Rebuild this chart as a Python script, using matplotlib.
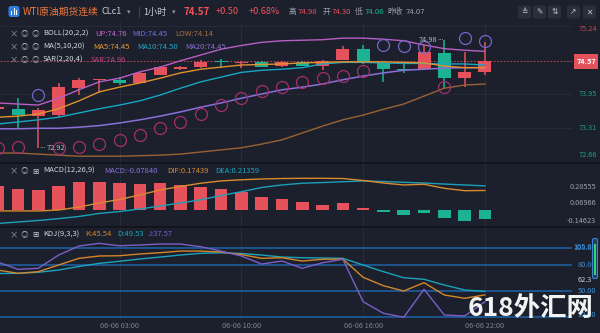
"""
WTI 1h chart: BOLL / MA / SAR + MACD + KDJ panels
"""
import numpy as np
import matplotlib.pyplot as plt
from matplotlib.patches import Rectangle, FancyBboxPatch
from matplotlib.transforms import blended_transform_factory as blend

plt.rcParams['font.family'] = ['Noto Sans CJK SC', 'DejaVu Sans']

# candle index, -1 is the one cut by the left edge
idx = list(range(-1, 24))
opens  = [73.67, 73.66, 73.54, 73.55, 74.06, 74.21, 74.22, 74.16, 74.32, 74.42, 74.46, 74.56, 74.54,
          74.56, 74.48, 74.56, 74.49, 74.60, 74.80, 74.54, 74.42, 74.42, 74.73, 74.25, 74.37]
closes = [73.70, 73.55, 73.65, 74.08, 74.22, 74.22, 74.16, 74.34, 74.46, 74.47, 74.56, 74.55, 74.56,
          74.47, 74.56, 74.49, 74.58, 74.80, 74.53, 74.42, 74.41, 74.74, 74.25, 74.37, 74.57]
highs  = [73.75, 73.87, 73.68, 74.15, 74.26, 74.22, 74.27, 74.37, 74.48, 74.48, 74.60, 74.61, 74.57,
          74.58, 74.57, 74.57, 74.59, 74.87, 74.88, 74.55, 74.53, 74.88, 74.98, 74.75, 74.94]
lows   = [73.60, 73.30, 72.92, 73.51, 73.93, 73.97, 74.12, 74.16, 74.31, 74.41, 74.45, 74.44, 74.44,
          74.46, 74.47, 74.48, 74.41, 74.59, 74.52, 74.18, 74.34, 74.41, 74.06, 74.09, 74.32]

boll_up  = [73.78, 73.76, 73.74, 73.87, 74.03, 74.18, 74.25, 74.37, 74.46, 74.58, 74.69, 74.80, 74.87,
            74.93, 74.96, 74.97, 74.98, 75.01, 75.01, 74.99, 74.96, 74.88, 74.81, 74.78, 74.76]
boll_mid = [73.29, 73.29, 73.30, 73.30, 73.32, 73.35, 73.40, 73.46, 73.53, 73.61, 73.70, 73.78, 73.87,
            73.95, 74.03, 74.08, 74.14, 74.22, 74.29, 74.35, 74.40, 74.42, 74.44, 74.45, 74.45]
boll_low = [72.83, 72.83, 72.81, 72.79, 72.77, 72.77, 72.77, 72.78, 72.79, 72.81, 72.85, 72.89, 72.93,
            73.00, 73.08, 73.21, 73.34, 73.46, 73.55, 73.66, 73.76, 73.91, 74.06, 74.12, 74.14]
ma5  = [73.51, 73.53, 73.57, 73.67, 73.82, 73.99, 74.08, 74.16, 74.25, 74.35, 74.42, 74.46, 74.50,
        74.51, 74.52, 74.54, 74.55, 74.56, 74.56, 74.56, 74.55, 74.54, 74.48, 74.45, 74.45]
ma10 = [73.38, 73.42, 73.46, 73.51, 73.59, 73.67, 73.74, 73.82, 73.93, 74.06, 74.18, 74.27, 74.36,
        74.40, 74.42, 74.45, 74.52, 74.55, 74.55, 74.54, 74.53, 74.53, 74.52, 74.52, 74.50]
ma20 = boll_mid
sar  = [72.93, 72.94, 73.93, 72.92, 72.95, 73.00, 73.08, 73.17, 73.30, 73.42, 73.57, 73.74, 73.87,
        74.01, 74.09, 74.18, 74.25, 74.30, 74.39, 74.88, 74.87, 74.84, 74.08, 75.01, 74.96]

macd_hist = [0.213, 0.184, 0.178, 0.213, 0.245, 0.250, 0.237, 0.230, 0.237, 0.222, 0.207, 0.184, 0.158,
             0.120, 0.100, 0.073, 0.048, 0.063, 0.024, -0.016, -0.039, -0.024, -0.068, -0.089, -0.078]
dif = [-0.004, -0.004, -0.004, 0.004, 0.030, 0.065, 0.096, 0.135, 0.178, 0.209, 0.237, 0.257, 0.267,
       0.274, 0.278, 0.280, 0.280, 0.278, 0.261, 0.239, 0.222, 0.228, 0.193, 0.172, 0.174]
dea = [-0.113, -0.100, -0.087, -0.071, -0.052, -0.026, -0.009, 0.013, 0.039, 0.065, 0.093, 0.130, 0.163,
       0.200, 0.222, 0.237, 0.243, 0.250, 0.257, 0.252, 0.245, 0.239, 0.230, 0.222, 0.214]

kdj_k = [74.2, 70.4, 72.3, 80.0, 87.7, 90.4, 90.7, 92.7, 94.2, 96.1, 96.1, 95.0, 92.1,
         87.7, 88.4, 84.6, 86.6, 86.9, 65.8, 56.1, 50.0, 59.6, 45.4, 41.6, 45.54]
kdj_d = [70.2, 70.4, 71.6, 74.2, 78.3, 81.9, 84.3, 86.9, 89.2, 91.5, 93.5, 94.1, 93.3,
         91.5, 89.2, 88.4, 88.1, 87.7, 80.0, 72.3, 65.3, 63.5, 56.9, 51.2, 49.53]
kdj_j = [83.4, 75.0, 76.2, 91.5, 101.9, 105.0, 102.2, 103.1, 104.2, 104.2, 101.1, 96.1, 90.4,
         81.1, 84.6, 76.2, 82.6, 86.6, 37.7, 24.3, 19.7, 52.0, 22.3, 21.2, 37.57]

time_idx = [5, 11, 17, 23]
time_labels = ['06-06 03:00', '06-06 10:00', '06-06 16:00', '06-06 22:00']
price_ticks = [75.24, 73.95, 73.31, 72.66]
macd_ticks = ['0.28555', '0.06966', '-0.14623']
kdj_levels = [100, 80, 50, 20]

W, H = 600, 333
PLOT_R = 572
BG = '#1b202c'
GRID = '#272c38'
SEP = '#10131a'
RED = '#e5525c'
GREEN = '#1bb393'
C_UP, C_MID, C_LOW = '#b85ec4', '#7468de', '#9b6233'
C_MA5, C_MA10, C_MA20 = '#e0922e', '#17a6c3', '#8a6fd8'
SAR_PINK, SAR_LAV = '#a3306d', '#7a64c8'
GRAY = '#9ba1ac'

fig = plt.figure(figsize=(W / 100, H / 100), dpi=100)
fig.patch.set_facecolor(BG)

x = np.array(idx)
o, c, h, l = map(np.array, (opens, closes, highs, lows))


def panel(top, bottom):
    a = fig.add_axes([0, 1 - bottom / H, PLOT_R / W, (bottom - top) / H])
    a.set_facecolor(BG)
    for s in a.spines.values():
        s.set_visible(False)
    a.set_xticks([])
    a.set_yticks([])
    a.set_xlim(-0.887, 27.29)
    for g in time_idx:
        a.axvline(g, color=GRID, lw=0.8, zorder=0)
    return a


# ---- main price panel
ax = panel(22, 162)
ax.set_ylim(72.66, 75.316)
for v in price_ticks:
    ax.axhline(v, color=GRID, lw=0.6, zorder=0)
ax.axhline(closes[-1], color=RED, lw=0.8, ls=(0, (1.5, 1.5)), alpha=0.75, zorder=1)

cols = np.where(c >= o, RED, GREEN)
ax.vlines(x, l, h, colors=cols, lw=1.1, zorder=2)
ax.bar(x, np.maximum(np.abs(c - o), 0.02), bottom=np.minimum(o, c), width=0.64,
       color=cols, linewidth=0, zorder=3)

ax.plot(x, boll_low, color=C_LOW, lw=1.0, zorder=4)
ax.plot(x, ma10, color=C_MA10, lw=1.0, zorder=4)
ax.plot(x, ma20, color=C_MA20, lw=1.1, zorder=4)
ax.plot(x, ma5, color=C_MA5, lw=1.0, zorder=4)
ax.plot(x, boll_up, color=C_UP, lw=1.0, zorder=4)

s = np.array(sar)
above = s > c
ax.plot(x[~above], s[~above], 'o', mfc='none', mec=SAR_PINK, ms=8.6, mew=0.9, zorder=5)
ax.plot(x[above], s[above], 'o', mfc='none', mec=SAR_LAV, ms=8.6, mew=0.9, zorder=5)

# high / low markers with short dotted leaders
lo_i = int(np.argmin(l))
hi_i = int(np.argmax(h))
ax.text(x[lo_i] + 0.05, l[lo_i], '···', color='#b4b8c0', fontsize=5, ha='left', va='center',
        family=['DejaVu Sans'], zorder=6)
ax.text(x[lo_i] + 0.40, l[lo_i], '%.2f' % l[lo_i], color='#b4b8c0', fontsize=5.3,
        ha='left', va='center', zorder=6)
ax.text(x[hi_i] - 0.02, h[hi_i], '···', color='#b4b8c0', fontsize=5, ha='right', va='center',
        family=['DejaVu Sans'], zorder=6)
ax.text(x[hi_i] - 0.37, h[hi_i], '%.2f' % h[hi_i], color='#b4b8c0', fontsize=5.3,
        ha='right', va='center', zorder=6)

tr = blend(ax.transAxes, ax.transData)
lx = 597 / PLOT_R
for v in price_ticks:
    dy = -2.2 if v == max(price_ticks) else (5 if v == min(price_ticks) else 0)
    ax.annotate('%.2f' % v, xy=(lx, v), xycoords=tr, xytext=(0, dy), textcoords='offset points',
                color='#c9444d' if v > closes[-1] else '#14a086', fontsize=5.3,
                ha='right', va='center', annotation_clip=False)
ax.add_patch(Rectangle((574 / PLOT_R, closes[-1] - 7.5 / 52.7), 24 / PLOT_R, 15 / 52.7,
                       transform=tr, fc=RED, ec='none', clip_on=False, zorder=6))
ax.text(lx - 0.002, closes[-1], '%.2f' % closes[-1], transform=tr, color='white', fontsize=5.3,
        weight='bold', ha='right', va='center', zorder=7)

# ---- MACD panel
ax2 = panel(163, 226)
ax2.set_ylim(-0.135, 0.413)
hv = np.array(macd_hist)
ax2.bar(x, hv, width=0.62, color=np.where(hv >= 0, RED, GREEN), linewidth=0, zorder=2)
ax2.plot(x, dea, color='#1d9fba', lw=1.0, zorder=3)
ax2.plot(x, dif, color='#d98a2e', lw=1.0, zorder=3)
for lab, fy in zip(macd_ticks, [0.614, 0.360, 0.084]):
    ax2.text(596 / PLOT_R, fy, lab, transform=ax2.transAxes, color=GRAY, fontsize=5.3,
             ha='right', va='center')

# ---- KDJ panel
ax3 = panel(228, 319)
ax3.set_ylim(17.7, 122.7)
for v in kdj_levels:
    ax3.axhline(v, color='#1f5d9e', lw=1.2, zorder=1)
ax3.plot(x, kdj_d, color='#1ba3bb', lw=1.0, zorder=3)
ax3.plot(x, kdj_k, color='#d5862a', lw=1.0, zorder=3)
ax3.plot(x, kdj_j, color='#7b5fc7', lw=1.0, zorder=3)
tr3 = blend(ax3.transAxes, ax3.transData)
BLUE_T = '#3f8fd6'
ax3.text(592 / PLOT_R, 100.6, '105.6', transform=tr3, color=BLUE_T, fontsize=5.3, ha='right', va='center')
ax3.text(592 / PLOT_R, 99.4, '108.8', transform=tr3, color=BLUE_T, fontsize=5.3, ha='right', va='center')
ax3.text(596 / PLOT_R, 80, '80.00', transform=tr3, color=BLUE_T, fontsize=5.3, ha='right', va='center')
ax3.text(592 / PLOT_R, 62.3, '62.3', transform=tr3, color='#c9cdd4', fontsize=5.3, ha='right', va='center')
ax3.text(596 / PLOT_R, 50, '50.00', transform=tr3, color=BLUE_T, fontsize=5.3, ha='right', va='center')
ax3.text(596 / PLOT_R, 22, '20.00', transform=tr3, color=BLUE_T, fontsize=5.3, ha='right', va='center')
ax3.set_xticks(time_idx)
ax3.set_xticklabels(time_labels)
ax3.tick_params(axis='x', length=0, pad=2, labelsize=5.3, labelcolor='#7e858f')

# ---- overlay: header, legends, separators, watermark
ov = fig.add_axes([0, 0, 1, 1], zorder=10)
ov.set_xlim(0, W)
ov.set_ylim(H, 0)
ov.axis('off')
ov.patch.set_alpha(0)

ov.plot([0, W], [162.5, 162.5], color=SEP, lw=1.3)
ov.plot([0, W], [227, 227], color=SEP, lw=1.3)

# header
ov.add_patch(FancyBboxPatch((8.5, 6), 11, 11, boxstyle='round,pad=0,rounding_size=2.5',
                            fc='#2f7de1', ec='none'))
for bx, bh in [(11, 4), (13.5, 7), (16, 5)]:
    ov.add_patch(Rectangle((bx, 15 - bh), 1.4, bh, fc='white', ec='none'))
hy = 12
ov.text(23, hy, 'WTI原油期货连续', color='#ef7a3e', fontsize=7, va='center')
ov.text(102, hy, 'CLc1', color='#c8ccd4', fontsize=6.6, va='center')
ov.text(127, hy, '▾', color='#8d939e', fontsize=5, va='center')
ov.plot([139, 139], [7, 17], color='#3c424e', lw=0.8)
ov.text(143, hy, '1小时', color='#c8ccd4', fontsize=6.6, va='center')
ov.text(172, hy, '▾', color='#8d939e', fontsize=5, va='center')
ov.text(183, hy, '%.2f' % closes[-1], color='#f0525c', fontsize=7, weight='bold', va='center')
ov.text(216, hy, '+0.50', color='#f0525c', fontsize=6.6, va='center')
ov.text(249, hy, '+0.68%', color='#f0525c', fontsize=6.6, va='center')
for tx, t, col in [(289, '高', GRAY), (298, '74.98', '#e5525c'), (323, '开', GRAY), (332, '74.30', '#e5525c'),
                   (355, '低', GRAY), (365, '74.06', GREEN), (387, '昨收', GRAY), (406, '74.07', GRAY)]:
    ov.text(tx, hy, t, color=col, fontsize=5.6, va='center')
for bx, g in zip([518, 533, 548, 567, 583], ['≙', '✎', '⇅', '↗', '✕']):
    ov.add_patch(FancyBboxPatch((bx, 5.5), 13, 13, boxstyle='round,pad=0,rounding_size=2',
                                fc='#2a2f3b', ec='none'))
    ov.text(bx + 6.5, 12, g, color='#c3c7ce', fontsize=5.5, ha='center', va='center',
            family=['DejaVu Sans'])

# legends
LF = 5.5


def legend_row(y, name, parts, square=False):
    ov.text(10, y, '×', color='#9aa0aa', fontsize=6, va='center')
    ov.text(21, y, '◎', color='#9aa0aa', fontsize=5.5, va='center')
    ov.text(32, y, '⊞' if square else '◎', color='#c8ccd4' if square else '#9aa0aa',
            fontsize=5.5, va='center', family=['DejaVu Sans'] if square else None)
    ov.text(43, y, name, color='#d2d5db', fontsize=LF, va='center')
    for px, t, col in parts:
        ov.text(px, y, t, color=col, fontsize=LF, va='center')


legend_row(34, 'BOLL(20,2,2)', [(95, 'UP:%.2f' % boll_up[-1], '#c466cc'),
                                (132, 'MID:%.2f' % boll_mid[-1], '#7072e6'),
                                (175, 'LOW:%.2f' % boll_low[-1], '#a8703c')])
legend_row(47, 'MA(5,10,20)', [(93, 'MA5:%.2f' % ma5[-1], '#e69a3a'),
                               (137, 'MA10:%.2f' % ma10[-1], '#22a8c8'),
                               (185, 'MA20:%.2f' % ma20[-1], '#8b6fd0')])
legend_row(60, 'SAR(2,20,4)', [(91, 'SAR:%.2f' % sar[-1], '#c8407e')])
legend_row(171, 'MACD(12,26,9)', [(104, 'MACD:-0.07840', '#8c72d8'),
                                  (167, 'DIF:0.17439', '#d88a30'),
                                  (215, 'DEA:0.21359', '#1aa6c0')], square=True)
legend_row(234.5, 'KDJ(9,3,3)', [(85, 'K:%.2f' % kdj_k[-1], '#d5862a'),
                                 (117, 'D:%.2f' % kdj_d[-1], '#1ba3bb'),
                                 (148, 'J:%.2f' % kdj_j[-1], '#7b5fc7')], square=True)

# little scroll widget on the KDJ axis
ov.add_patch(FancyBboxPatch((592.5, 238.5), 5, 40, boxstyle='round,pad=0,rounding_size=1.5',
                            fc='#1f3f5e', ec='#3f7fd0', lw=0.8))
ov.add_patch(Rectangle((594, 244), 2, 31, fc='#34d46c', ec='none'))

ov.text(468, 309, '618外汇网', color='white', fontsize=19, weight='bold', va='center',
        alpha=0.95)

fig.savefig('out.png', dpi=100, facecolor=BG)
